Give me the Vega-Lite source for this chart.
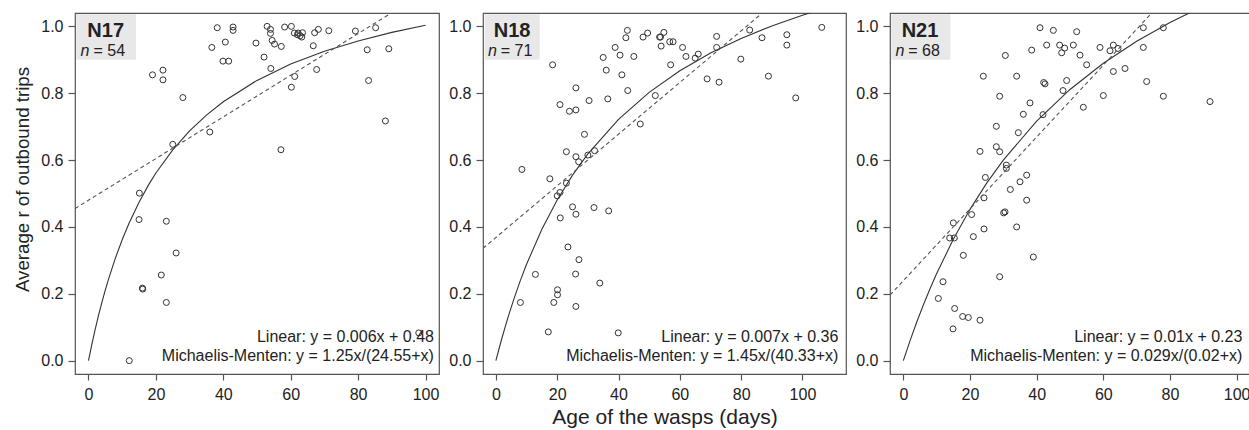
{
  "$schema": "https://vega.github.io/schema/vega-lite/v6.json",
  "background": "white",
  "padding": {"left": 13, "top": 12, "right": 0, "bottom": 0},
  "spacing": 8,
  "config": {
    "view": {"stroke": "#555", "strokeWidth": 1.2},
    "font": "Liberation Sans",
    "axis": {"domain": false, "grid": false, "tickColor": "#555", "tickSize": 7, "tickWidth": 1.2, "labelFont": "Liberation Sans", "labelFontSize": 16, "labelColor": "#222", "labelPadding": 5, "titleFont": "Liberation Sans", "titleFontSize": 19.5, "titleFontWeight": "normal", "titleColor": "#222"},
    "text": {"font": "Liberation Sans", "color": "#222"}
  },
  "datasets": {
    "p1": [
      {"x":38.2,"y":0.996},{"x":36.6,"y":0.937},{"x":40.6,"y":0.953},{"x":42.9,"y":0.998},{"x":42.9,"y":0.988},{"x":39.9,"y":0.896},{"x":41.6,"y":0.896},{"x":19.0,"y":0.855},{"x":22.1,"y":0.869},{"x":22.1,"y":0.84},{"x":28.0,"y":0.787},{"x":36.0,"y":0.684},{"x":25.0,"y":0.647},{"x":15.1,"y":0.501},{"x":49.7,"y":0.95},{"x":52.1,"y":0.908},{"x":53.0,"y":1.0},{"x":54.0,"y":0.991},{"x":54.0,"y":0.979},{"x":54.5,"y":0.958},{"x":55.2,"y":0.947},{"x":57.2,"y":0.94},{"x":54.1,"y":0.874},{"x":58.2,"y":0.998},{"x":60.2,"y":1.0},{"x":61.1,"y":0.98},{"x":62.2,"y":0.98},{"x":63.5,"y":0.981},{"x":63.3,"y":0.968},{"x":62.8,"y":0.972},{"x":61.2,"y":0.85},{"x":60.2,"y":0.818},{"x":57.1,"y":0.631},{"x":66.7,"y":0.942},{"x":67.1,"y":0.981},{"x":68.2,"y":0.991},{"x":67.7,"y":0.871},{"x":71.3,"y":0.987},{"x":79.2,"y":0.986},{"x":85.2,"y":0.996},{"x":82.7,"y":0.93},{"x":83.1,"y":0.838},{"x":89.1,"y":0.933},{"x":88.1,"y":0.717},{"x":15.0,"y":0.422},{"x":23.1,"y":0.417},{"x":26.0,"y":0.322},{"x":21.6,"y":0.256},{"x":16.0,"y":0.217},{"x":16.1,"y":0.214},{"x":23.1,"y":0.174},{"x":12.1,"y":0.0},{"x":98.0,"y":0.083},{"x":62.0,"y":0.975}
    ],
    "p2": [
      {"x":8.5,"y":0.572},{"x":18.5,"y":0.885},{"x":20.9,"y":0.766},{"x":24.0,"y":0.746},{"x":26.1,"y":0.75},{"x":26.1,"y":0.816},{"x":30.4,"y":0.778},{"x":28.9,"y":0.677},{"x":23.0,"y":0.625},{"x":26.1,"y":0.61},{"x":27.0,"y":0.595},{"x":30.0,"y":0.615},{"x":32.2,"y":0.628},{"x":17.6,"y":0.544},{"x":23.0,"y":0.531},{"x":20.9,"y":0.503},{"x":20.0,"y":0.493},{"x":35.0,"y":0.907},{"x":36.0,"y":0.869},{"x":36.5,"y":0.783},{"x":38.9,"y":0.937},{"x":40.5,"y":0.914},{"x":41.1,"y":0.855},{"x":42.4,"y":0.966},{"x":42.9,"y":0.988},{"x":45.0,"y":0.91},{"x":43.0,"y":0.808},{"x":47.1,"y":0.708},{"x":48.0,"y":0.968},{"x":49.5,"y":0.98},{"x":52.0,"y":0.793},{"x":53.7,"y":0.968},{"x":53.4,"y":0.968},{"x":53.9,"y":0.941},{"x":54.8,"y":0.982},{"x":56.7,"y":0.954},{"x":57.8,"y":0.954},{"x":57.0,"y":0.885},{"x":60.9,"y":0.937},{"x":62.0,"y":0.91},{"x":65.0,"y":0.905},{"x":66.0,"y":0.917},{"x":68.9,"y":0.843},{"x":72.0,"y":0.97},{"x":72.0,"y":0.937},{"x":72.8,"y":0.833},{"x":79.9,"y":0.902},{"x":82.8,"y":0.989},{"x":86.8,"y":0.966},{"x":88.9,"y":0.851},{"x":94.9,"y":0.975},{"x":94.9,"y":0.944},{"x":97.8,"y":0.786},{"x":106.3,"y":0.997},
      {"x":25.0,"y":0.46},{"x":26.1,"y":0.438},{"x":32.0,"y":0.458},{"x":36.8,"y":0.448},{"x":21.0,"y":0.427},{"x":23.5,"y":0.34},{"x":27.1,"y":0.302},{"x":12.9,"y":0.258},{"x":26.0,"y":0.259},{"x":33.9,"y":0.232},{"x":20.1,"y":0.212},{"x":20.1,"y":0.197},{"x":8.0,"y":0.174},{"x":18.9,"y":0.174},{"x":26.1,"y":0.162},{"x":17.1,"y":0.086},{"x":39.9,"y":0.083}
    ],
    "p3": [
      {"x":41.0,"y":0.996},{"x":45.0,"y":0.988},{"x":52.0,"y":0.984},{"x":72.0,"y":0.996},{"x":78.0,"y":0.996},{"x":43.0,"y":0.944},{"x":46.9,"y":0.944},{"x":48.4,"y":0.935},{"x":47.5,"y":0.921},{"x":51.0,"y":0.944},{"x":38.5,"y":0.929},{"x":30.6,"y":0.913},{"x":53.0,"y":0.914},{"x":55.0,"y":0.885},{"x":59.0,"y":0.937},{"x":62.0,"y":0.927},{"x":63.0,"y":0.944},{"x":64.4,"y":0.934},{"x":72.0,"y":0.937},{"x":63.0,"y":0.865},{"x":66.5,"y":0.874},{"x":24.0,"y":0.851},{"x":34.0,"y":0.851},{"x":42.1,"y":0.832},{"x":42.5,"y":0.828},{"x":49.0,"y":0.838},{"x":47.9,"y":0.808},{"x":73.0,"y":0.835},{"x":28.9,"y":0.791},{"x":60.0,"y":0.793},{"x":78.0,"y":0.791},{"x":92.0,"y":0.775},{"x":38.0,"y":0.771},{"x":54.0,"y":0.758},{"x":36.0,"y":0.737},{"x":41.9,"y":0.736},{"x":27.9,"y":0.701},{"x":34.5,"y":0.682},{"x":27.9,"y":0.64},{"x":28.9,"y":0.625},{"x":23.0,"y":0.626},{"x":30.9,"y":0.585},{"x":30.9,"y":0.575},{"x":24.6,"y":0.548},{"x":37.0,"y":0.555},{"x":35.0,"y":0.535},{"x":32.1,"y":0.512},{"x":24.2,"y":0.487},{"x":37.0,"y":0.48},{"x":20.5,"y":0.437},{"x":30.1,"y":0.442},{"x":30.5,"y":0.445},{"x":15.0,"y":0.412},{"x":13.9,"y":0.367},{"x":15.3,"y":0.367},{"x":24.2,"y":0.394},{"x":21.0,"y":0.371},{"x":34.0,"y":0.4},{"x":18.0,"y":0.315},{"x":39.0,"y":0.31},{"x":28.9,"y":0.251},{"x":11.9,"y":0.236},{"x":10.5,"y":0.186},{"x":15.4,"y":0.156},{"x":17.8,"y":0.132},{"x":19.5,"y":0.129},{"x":23.0,"y":0.121},{"x":14.9,"y":0.095}
    ],
    "c1": [
      {"x":0,"y":0},{"x":1,"y":0.0489},{"x":2,"y":0.0942},{"x":3,"y":0.1361},{"x":4,"y":0.1751},{"x":5,"y":0.2115},{"x":6,"y":0.2455},{"x":8,"y":0.3072},{"x":10,"y":0.3618},{"x":12,"y":0.4104},{"x":15,"y":0.4741},{"x":18,"y":0.5288},{"x":20,"y":0.5612},{"x":25,"y":0.6307},{"x":30,"y":0.6874},{"x":35,"y":0.7347},{"x":40,"y":0.7746},{"x":50,"y":0.8384},{"x":60,"y":0.8871},{"x":70,"y":0.9254},{"x":80,"y":0.9565},{"x":90,"y":0.9821},{"x":100,"y":1.0036}
    ],
    "c2": [
      {"x":0,"y":0},{"x":2,"y":0.0685},{"x":4,"y":0.1308},{"x":6,"y":0.1878},{"x":8,"y":0.24},{"x":10,"y":0.2881},{"x":15,"y":0.3931},{"x":20,"y":0.4807},{"x":25,"y":0.5549},{"x":30,"y":0.6185},{"x":40,"y":0.722},{"x":50,"y":0.8026},{"x":60,"y":0.8671},{"x":70,"y":0.92},{"x":80,"y":0.964},{"x":90,"y":1.0013},{"x":100,"y":1.0333},{"x":105,"y":1.0476},{"x":110,"y":1.061}
    ],
    "c3": [
      {"x":0,"y":0},{"x":2,"y":0.0593},{"x":4,"y":0.1147},{"x":6,"y":0.1665},{"x":8,"y":0.215},{"x":10,"y":0.2606},{"x":15,"y":0.3634},{"x":20,"y":0.4526},{"x":25,"y":0.5309},{"x":30,"y":0.6},{"x":40,"y":0.7167},{"x":50,"y":0.8113},{"x":60,"y":0.8897},{"x":70,"y":0.9556},{"x":80,"y":1.0118},{"x":90,"y":1.0603}
    ],
    "l1": [{"x":-4,"y":0.455},{"x":104,"y":1.128}],
    "l2": [{"x":-4.2,"y":0.336},{"x":114.2,"y":1.251}],
    "l3": [{"x":-4,"y":0.196},{"x":104,"y":1.357}]
  },
  "hconcat": [
    {
      "width": 364, "height": 361,
      "layer": [
        {"data": {"values": [{}]}, "mark": {"type": "rect", "color": "#e8e8e8"},
         "encoding": {"x": {"datum": -3.6, "type": "quantitative", "scale": {"domain": [-4, 104], "nice": false, "zero": false}}, "x2": {"datum": 14.1},
                      "y": {"datum": 0.9, "type": "quantitative", "scale": {"domain": [-0.04, 1.04], "nice": false, "zero": false}}, "y2": {"datum": 1.036}}},
        {"data": {"name": "p1"}, "mark": {"type": "point", "shape": "circle", "filled": false, "size": 36, "color": "#333", "strokeWidth": 1, "opacity": 1},
         "encoding": {"x": {"field": "x", "type": "quantitative", "scale": {"domain": [-4, 104], "nice": false, "zero": false}, "axis": {"values": [0, 20, 40, 60, 80, 100], "title": null, "tickSize": 6, "labelPadding": 6}},
                      "y": {"field": "y", "type": "quantitative", "scale": {"domain": [-0.04, 1.04], "nice": false, "zero": false}, "axis": {"values": [0, 0.2, 0.4, 0.6, 0.8, 1], "format": ".1f", "title": "Average r of outbound trips", "titlePadding": 8, "titleFontSize": 18.7, "titleY": 166}}}},
        {"data": {"name": "c1"}, "mark": {"type": "line", "color": "#333", "strokeWidth": 1.1, "clip": true},
         "encoding": {"x": {"field": "x", "type": "quantitative"}, "y": {"field": "y", "type": "quantitative"}}},
        {"data": {"name": "l1"}, "mark": {"type": "line", "color": "#555", "strokeWidth": 1.1, "strokeDash": [4, 3], "clip": true},
         "encoding": {"x": {"field": "x", "type": "quantitative"}, "y": {"field": "y", "type": "quantitative"}}},
        {"data": {"values": [{"t": "N17"}]}, "mark": {"type": "text", "fontSize": 20, "fontWeight": "bold", "align": "center", "baseline": "alphabetic"},
         "encoding": {"x": {"datum": 5.1, "type": "quantitative"}, "y": {"datum": 0.967, "type": "quantitative"}, "text": {"field": "t"}}},
        {"data": {"values": [{"t": "n"}]}, "mark": {"type": "text", "fontSize": 16, "fontStyle": "italic", "align": "right", "baseline": "alphabetic"},
         "encoding": {"x": {"datum": 0.3, "type": "quantitative"}, "y": {"datum": 0.91, "type": "quantitative"}, "text": {"field": "t"}}},
        {"data": {"values": [{"t": "= 54"}]}, "mark": {"type": "text", "fontSize": 16, "align": "left", "baseline": "alphabetic", "dx": 4},
         "encoding": {"x": {"datum": 0.3, "type": "quantitative"}, "y": {"datum": 0.91, "type": "quantitative"}, "text": {"field": "t"}}},
        {"data": {"values": [{"t": "Linear: y = 0.006x + 0.48"}]}, "mark": {"type": "text", "fontSize": 16, "align": "right", "baseline": "alphabetic"},
         "encoding": {"x": {"datum": 102.5, "type": "quantitative"}, "y": {"datum": 0.055, "type": "quantitative"}, "text": {"field": "t"}}},
        {"data": {"values": [{"t": "Michaelis-Menten: y = 1.25x/(24.55+x)"}]}, "mark": {"type": "text", "fontSize": 16, "align": "right", "baseline": "alphabetic"},
         "encoding": {"x": {"datum": 102.5, "type": "quantitative"}, "y": {"datum": -0.002, "type": "quantitative"}, "text": {"field": "t"}}}
      ]
    },
    {
      "width": 363, "height": 361,
      "layer": [
        {"data": {"values": [{}]}, "mark": {"type": "rect", "color": "#e8e8e8"},
         "encoding": {"x": {"datum": -3.6, "type": "quantitative", "scale": {"domain": [-4.2, 114.2], "nice": false, "zero": false}}, "x2": {"datum": 14.3},
                      "y": {"datum": 0.9, "type": "quantitative", "scale": {"domain": [-0.04, 1.04], "nice": false, "zero": false}}, "y2": {"datum": 1.036}}},
        {"data": {"name": "p2"}, "mark": {"type": "point", "shape": "circle", "filled": false, "size": 36, "color": "#333", "strokeWidth": 1, "opacity": 1},
         "encoding": {"x": {"field": "x", "type": "quantitative", "scale": {"domain": [-4.2, 114.2], "nice": false, "zero": false}, "axis": {"values": [0, 20, 40, 60, 80, 100], "title": "Age of the wasps (days)", "titlePadding": 4, "titleFontSize": 21, "tickSize": 6, "labelPadding": 6}},
                      "y": {"field": "y", "type": "quantitative", "scale": {"domain": [-0.04, 1.04], "nice": false, "zero": false}, "axis": {"values": [0, 0.2, 0.4, 0.6, 0.8, 1], "format": ".1f", "title": null}}}},
        {"data": {"name": "c2"}, "mark": {"type": "line", "color": "#333", "strokeWidth": 1.1, "clip": true},
         "encoding": {"x": {"field": "x", "type": "quantitative"}, "y": {"field": "y", "type": "quantitative"}}},
        {"data": {"name": "l2"}, "mark": {"type": "line", "color": "#555", "strokeWidth": 1.1, "strokeDash": [4, 3], "clip": true},
         "encoding": {"x": {"field": "x", "type": "quantitative"}, "y": {"field": "y", "type": "quantitative"}}},
        {"data": {"values": [{"t": "N18"}]}, "mark": {"type": "text", "fontSize": 20, "fontWeight": "bold", "align": "center", "baseline": "alphabetic"},
         "encoding": {"x": {"datum": 5.3, "type": "quantitative"}, "y": {"datum": 0.967, "type": "quantitative"}, "text": {"field": "t"}}},
        {"data": {"values": [{"t": "n"}]}, "mark": {"type": "text", "fontSize": 16, "fontStyle": "italic", "align": "right", "baseline": "alphabetic"},
         "encoding": {"x": {"datum": 0.3, "type": "quantitative"}, "y": {"datum": 0.91, "type": "quantitative"}, "text": {"field": "t"}}},
        {"data": {"values": [{"t": "= 71"}]}, "mark": {"type": "text", "fontSize": 16, "align": "left", "baseline": "alphabetic", "dx": 4},
         "encoding": {"x": {"datum": 0.3, "type": "quantitative"}, "y": {"datum": 0.91, "type": "quantitative"}, "text": {"field": "t"}}},
        {"data": {"values": [{"t": "Linear: y = 0.007x + 0.36"}]}, "mark": {"type": "text", "fontSize": 16, "align": "right", "baseline": "alphabetic"},
         "encoding": {"x": {"datum": 111.7, "type": "quantitative"}, "y": {"datum": 0.055, "type": "quantitative"}, "text": {"field": "t"}}},
        {"data": {"values": [{"t": "Michaelis-Menten: y = 1.45x/(40.33+x)"}]}, "mark": {"type": "text", "fontSize": 16, "align": "right", "baseline": "alphabetic"},
         "encoding": {"x": {"datum": 111.7, "type": "quantitative"}, "y": {"datum": -0.002, "type": "quantitative"}, "text": {"field": "t"}}}
      ]
    },
    {
      "width": 360, "height": 361,
      "layer": [
        {"data": {"values": [{}]}, "mark": {"type": "rect", "color": "#e8e8e8"},
         "encoding": {"x": {"datum": -3.6, "type": "quantitative", "scale": {"domain": [-4, 104], "nice": false, "zero": false}}, "x2": {"datum": 14.1},
                      "y": {"datum": 0.9, "type": "quantitative", "scale": {"domain": [-0.04, 1.04], "nice": false, "zero": false}}, "y2": {"datum": 1.036}}},
        {"data": {"name": "p3"}, "mark": {"type": "point", "shape": "circle", "filled": false, "size": 36, "color": "#333", "strokeWidth": 1, "opacity": 1},
         "encoding": {"x": {"field": "x", "type": "quantitative", "scale": {"domain": [-4, 104], "nice": false, "zero": false}, "axis": {"values": [0, 20, 40, 60, 80, 100], "title": null, "tickSize": 6, "labelPadding": 6}},
                      "y": {"field": "y", "type": "quantitative", "scale": {"domain": [-0.04, 1.04], "nice": false, "zero": false}, "axis": {"values": [0, 0.2, 0.4, 0.6, 0.8, 1], "format": ".1f", "title": null}}}},
        {"data": {"name": "c3"}, "mark": {"type": "line", "color": "#333", "strokeWidth": 1.1, "clip": true},
         "encoding": {"x": {"field": "x", "type": "quantitative"}, "y": {"field": "y", "type": "quantitative"}}},
        {"data": {"name": "l3"}, "mark": {"type": "line", "color": "#555", "strokeWidth": 1.1, "strokeDash": [4, 3], "clip": true},
         "encoding": {"x": {"field": "x", "type": "quantitative"}, "y": {"field": "y", "type": "quantitative"}}},
        {"data": {"values": [{"t": "N21"}]}, "mark": {"type": "text", "fontSize": 20, "fontWeight": "bold", "align": "center", "baseline": "alphabetic"},
         "encoding": {"x": {"datum": 5.0, "type": "quantitative"}, "y": {"datum": 0.967, "type": "quantitative"}, "text": {"field": "t"}}},
        {"data": {"values": [{"t": "n"}]}, "mark": {"type": "text", "fontSize": 16, "fontStyle": "italic", "align": "right", "baseline": "alphabetic"},
         "encoding": {"x": {"datum": 0.3, "type": "quantitative"}, "y": {"datum": 0.91, "type": "quantitative"}, "text": {"field": "t"}}},
        {"data": {"values": [{"t": "= 68"}]}, "mark": {"type": "text", "fontSize": 16, "align": "left", "baseline": "alphabetic", "dx": 4},
         "encoding": {"x": {"datum": 0.3, "type": "quantitative"}, "y": {"datum": 0.91, "type": "quantitative"}, "text": {"field": "t"}}},
        {"data": {"values": [{"t": "Linear: y = 0.01x + 0.23"}]}, "mark": {"type": "text", "fontSize": 16, "align": "right", "baseline": "alphabetic"},
         "encoding": {"x": {"datum": 101.7, "type": "quantitative"}, "y": {"datum": 0.055, "type": "quantitative"}, "text": {"field": "t"}}},
        {"data": {"values": [{"t": "Michaelis-Menten: y = 0.029x/(0.02+x)"}]}, "mark": {"type": "text", "fontSize": 16, "align": "right", "baseline": "alphabetic"},
         "encoding": {"x": {"datum": 101.7, "type": "quantitative"}, "y": {"datum": -0.002, "type": "quantitative"}, "text": {"field": "t"}}}
      ]
    }
  ]
}
